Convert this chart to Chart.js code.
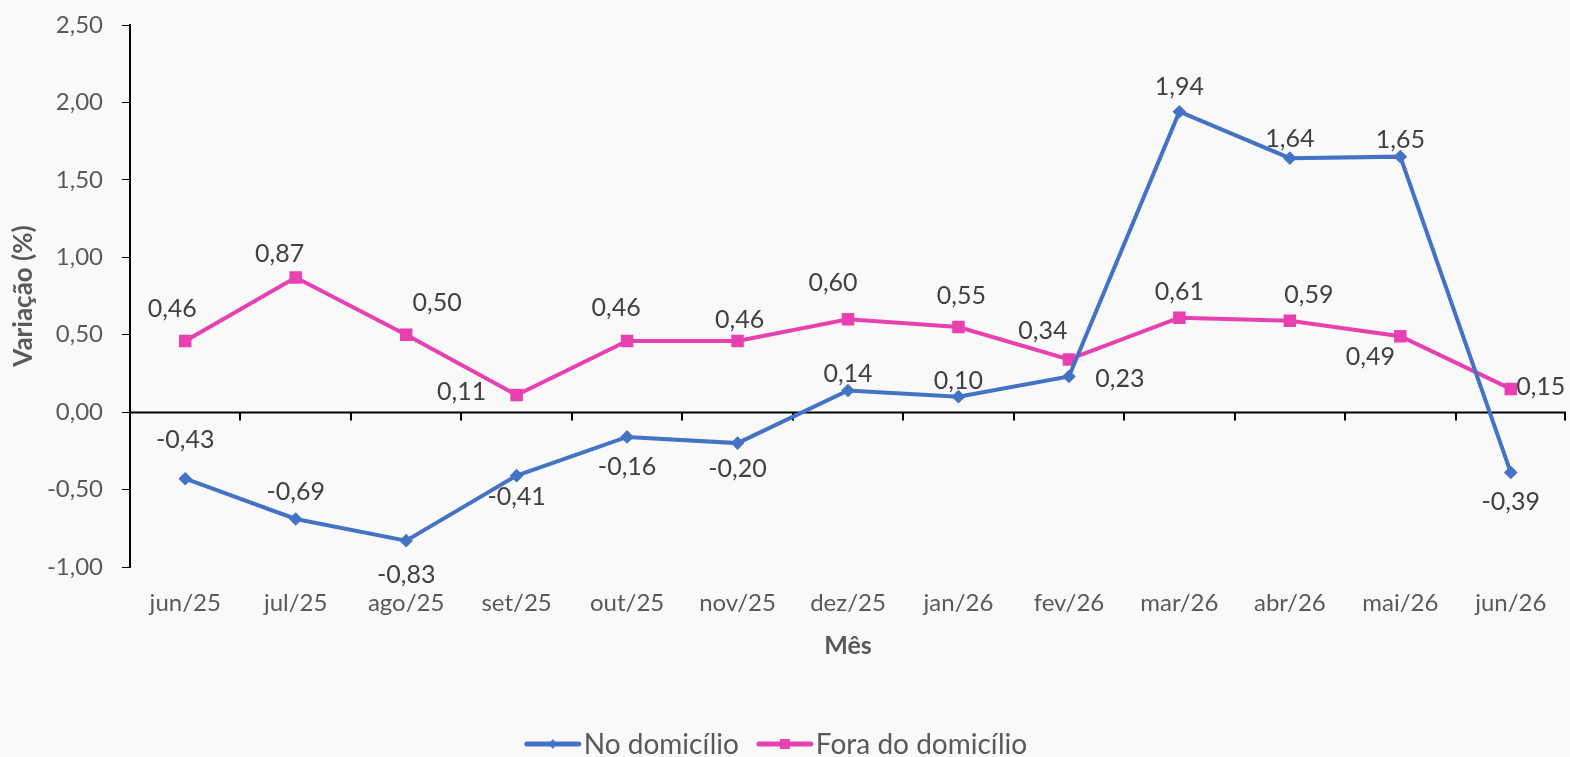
<!DOCTYPE html>
<html>
<head>
<meta charset="utf-8">
<script src="https://cdn.jsdelivr.net/npm/chart.js@4/dist/chart.umd.min.js"></script>
<style>
    html, body { margin: 0; padding: 0; background: #f9f9f9; }
    #wrap { width: 1570px; height: 757px; position: relative; }
</style>
</head>
<body>
<div id="wrap"><canvas id="chartCanvas"></canvas></div>
<script>
const months = ['jun/25', 'jul/25', 'ago/25', 'set/25', 'out/25', 'nov/25', 'dez/25',
    'jan/26', 'fev/26', 'mar/26', 'abr/26', 'mai/26', 'jun/26'];
const noDomicilio = [-0.43, -0.69, -0.83, -0.41, -0.16, -0.20, 0.14, 0.10, 0.23, 1.94, 1.64, 1.65, -0.39];
const foraDomicilio = [0.46, 0.87, 0.50, 0.11, 0.46, 0.46, 0.60, 0.55, 0.34, 0.61, 0.59, 0.49, 0.15];
const yTicks = [-1, -0.5, 0, 0.5, 1, 1.5, 2, 2.5];

// label offsets (px) relative to each point, like Excel's manual placement
const blueLabelPos = [[0, -39], [0, -27], [0, 34], [0, 21], [0, 30], [0, 26], [0, -17],
    [0, -16], [51, 2], [0, -25], [0, -19], [0, -17], [0, 29]];
const pinkLabelPos = [[-13, -32], [-16, -23], [31, -32], [-55, -3], [-11, -33], [2, -21], [-15, -36],
    [3, -31], [-26, -29], [0, -26], [19, -26], [-30, 21], [30, -2]];

const BLUE = '#4472C4';
const PINK = '#E840B0';
const FONT = 'Lato, "Open Sans", sans-serif';

const fmt = v => v.toFixed(2).replace('.', ',');

const bgPlugin = {
    id: 'bg',
    beforeDraw(chart) {
        const ctx = chart.ctx;
        ctx.save();
        ctx.fillStyle = '#f9f9f9';
        ctx.fillRect(0, 0, chart.width, chart.height);
        ctx.restore();
    }
};

// horizontal axis line at zero with tick marks between categories
const zeroAxisPlugin = {
    id: 'zeroAxis',
    beforeDatasetsDraw(chart) {
        const { ctx, chartArea, scales } = chart;
        const y0 = Math.round(scales.y.getPixelForValue(0)) + 0.5;
        const x = scales.x;
        const step = x.getPixelForValue(1) - x.getPixelForValue(0);
        ctx.save();
        ctx.strokeStyle = '#000';
        ctx.lineWidth = 2;
        ctx.beginPath();
        ctx.moveTo(chartArea.left, y0);
        ctx.lineTo(chartArea.right, y0);
        for (let i = 0; i <= months.length; i++) {
            const px = i < months.length ? x.getPixelForValue(i) - step / 2 : chartArea.right - 1;
            ctx.moveTo(Math.round(px), y0);
            ctx.lineTo(Math.round(px), y0 + 8);
        }
        ctx.stroke();
        ctx.restore();
    }
};

const labelPlugin = {
    id: 'pointLabels',
    afterDatasetsDraw(chart) {
        const ctx = chart.ctx;
        const offsets = [blueLabelPos, pinkLabelPos];
        ctx.save();
        ctx.font = '25px ' + FONT;
        ctx.fillStyle = '#404040';
        ctx.textAlign = 'center';
        ctx.textBaseline = 'middle';
        chart.data.datasets.forEach((ds, di) => {
            const meta = chart.getDatasetMeta(di);
            meta.data.forEach((pt, i) => {
                const off = offsets[di][i];
                ctx.fillText(fmt(ds.data[i]), pt.x + off[0], pt.y + off[1]);
            });
        });
        ctx.restore();
    }
};

const legendPlugin = {
    id: 'customLegend',
    afterDraw(chart) {
        const ctx = chart.ctx;
        const items = [
            { text: 'No domicílio', color: BLUE, marker: 'diamond' },
            { text: 'Fora do domicílio', color: PINK, marker: 'square' }
        ];
        ctx.save();
        ctx.font = '28px ' + FONT;
        const lineW = 52, gap = 5, itemGap = 20;
        let total = 0;
        items.forEach((it, i) => {
            it.w = ctx.measureText(it.text).width;
            total += lineW + gap + it.w + (i ? itemGap : 0);
        });
        let x = 777 - total / 2;
        const y = 744;
        items.forEach((it, i) => {
            if (i) x += itemGap;
            ctx.strokeStyle = it.color;
            ctx.fillStyle = it.color;
            ctx.lineWidth = 5;
            ctx.lineCap = 'round';
            ctx.beginPath();
            ctx.moveTo(x, y);
            ctx.lineTo(x + lineW, y);
            ctx.stroke();
            const cx = x + lineW / 2;
            ctx.beginPath();
            if (it.marker === 'diamond') {
                ctx.moveTo(cx, y - 5); ctx.lineTo(cx + 4, y); ctx.lineTo(cx, y + 5); ctx.lineTo(cx - 4, y);
            } else {
                ctx.rect(cx - 5, y - 5, 10, 10);
            }
            ctx.fill();
            x += lineW + gap;
            ctx.fillStyle = '#595959';
            ctx.textBaseline = 'middle';
            ctx.fillText(it.text, x, y + 1);
            x += it.w;
        });
        ctx.restore();
    }
};

const ctx = document.getElementById('chartCanvas').getContext('2d');
new Chart(ctx, {
    type: 'line',
    data: {
        labels: months,
        datasets: [{
            label: 'No domicílio',
            data: noDomicilio,
            borderColor: BLUE,
            backgroundColor: BLUE,
            borderWidth: 4,
            pointStyle: 'rectRot',
            pointRadius: 4,
            pointHoverRadius: 4,
            tension: 0,
            clip: false
        }, {
            label: 'Fora do domicílio',
            data: foraDomicilio,
            borderColor: PINK,
            backgroundColor: PINK,
            borderWidth: 4,
            pointStyle: 'rect',
            pointRadius: 6,
            pointHoverRadius: 6,
            tension: 0,
            clip: false
        }]
    },
    options: {
        responsive: true,
        maintainAspectRatio: false,
        animation: false,
        layout: {
            autoPadding: false,
            padding: { top: 25, right: 4, bottom: 86, left: 0 }
        },
        scales: {
            x: {
                offset: true,
                grid: { display: false },
                border: { display: false },
                afterFit: scale => {
                    scale.height = 104;
                    scale.paddingLeft = 0;
                    scale.paddingRight = 0;
                },
                ticks: {
                    color: '#595959',
                    font: { family: FONT, size: 24 },
                    padding: 14,
                    maxRotation: 0
                },
                title: {
                    display: true,
                    text: 'Mês',
                    color: '#595959',
                    font: { family: FONT, size: 25, weight: 'bold' },
                    padding: { top: 0, bottom: 10 }
                }
            },
            y: {
                min: -1,
                max: 2.5,
                afterBuildTicks: scale => {
                    scale.ticks = yTicks.map(v => ({ value: v }));
                },
                afterFit: scale => {
                    scale.width = 130;
                    scale.paddingTop = 0;
                    scale.paddingBottom = 0;
                },
                grid: {
                    drawOnChartArea: false,
                    drawTicks: true,
                    tickLength: 8,
                    color: '#000'
                },
                border: { display: true, color: '#000', width: 2 },
                ticks: {
                    color: '#595959',
                    font: { family: FONT, size: 24 },
                    padding: 19,
                    callback: v => fmt(v)
                },
                title: {
                    display: true,
                    text: 'Variação (%)',
                    color: '#595959',
                    font: { family: FONT, size: 26, weight: 'bold' },
                    padding: { top: 8, bottom: 0 }
                }
            }
        },
        plugins: {
            legend: { display: false },
            tooltip: { enabled: false }
        }
    },
    plugins: [bgPlugin, zeroAxisPlugin, labelPlugin, legendPlugin]
});
</script>
</body>
</html>
